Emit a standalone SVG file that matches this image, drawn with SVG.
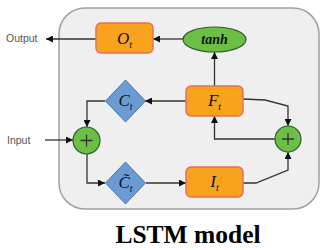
<svg xmlns="http://www.w3.org/2000/svg" width="329" height="250" viewBox="0 0 329 250">
<defs>
<marker id="ah" viewBox="0 0 10 10" refX="10" refY="5" markerWidth="7" markerHeight="7" markerUnits="userSpaceOnUse" orient="auto">
<path d="M0,0 L10,5 L0,10 z" fill="#111"/>
</marker>
<style>
.panel{fill:#EFEFEF;stroke:#A0A0A0;stroke-width:1.5}
.box{fill:#F9A31C;stroke:#E4705C;stroke-width:1.5}
.dia{fill:#6A9BD2;stroke:#4B79AB;stroke-width:1}
.grn{fill:#6CBE45;stroke:#2C5E28;stroke-width:1.2}
.ln{fill:none;stroke:#333;stroke-width:1.3;marker-end:url(#ah)}
.ln2{fill:none;stroke:#333;stroke-width:1.3}
.math{font-family:"Liberation Serif",serif;font-style:italic;fill:#111;text-anchor:middle}
.lbl{font-family:"Liberation Sans",Arial,sans-serif;font-size:10.5px;fill:#555}
.title{font-family:"Liberation Serif","Times New Roman",serif;font-weight:bold;font-size:25.5px;fill:#000;text-anchor:middle}
</style>
</defs>
<rect class="panel" x="59" y="8" width="260" height="201" rx="26" ry="26"/>
<g id="connectors">
<path class="ln" d="M96,39 L46,39"/>
<path class="ln" d="M183,39 L153,39"/>
<path class="ln" d="M214.5,86 L214.5,52"/>
<path class="ln" d="M243,99 L265,100 L288,106 L288,126"/>
<path class="ln" d="M275,139 L214.5,139 L214.5,116"/>
<path class="ln" d="M243,183 L256,183 L288,170 L288,152"/>
<path class="ln" d="M186,101 L145,101"/>
<path class="ln" d="M105,101 L87,101 L87,127"/>
<path class="ln" d="M45,140 L73,140"/>
<path class="ln" d="M87,154 L87,183 L105,183"/>
<path class="ln" d="M146,183 L186,183"/>
</g>
<g id="output"><text class="lbl" x="6" y="42">Output</text></g>
<g id="input"><text class="lbl" x="7" y="144">Input</text></g>
<g id="Ot">
<rect class="box" x="96" y="23" width="57" height="30" rx="5"/>
<text class="math" x="124.5" y="44" font-size="17">O<tspan font-size="10" dy="4">t</tspan></text>
</g>
<g id="tanh">
<ellipse class="grn" cx="214.5" cy="39.5" rx="31.5" ry="12.5"/>
<text class="math" x="214.5" y="44" font-size="14" font-weight="bold">tanh</text>
</g>
<g id="Ft">
<rect class="box" x="186" y="86" width="57" height="30" rx="5"/>
<text class="math" x="214.5" y="106" font-size="17">F<tspan font-size="10" dy="4">t</tspan></text>
</g>
<g id="It">
<rect class="box" x="186" y="167" width="57" height="30" rx="5"/>
<text class="math" x="214.5" y="187" font-size="17">I<tspan font-size="10" dy="4">t</tspan></text>
</g>
<g id="Ct">
<polygon class="dia" points="125.5,80 145.5,101 125.5,122 105.5,101"/>
<text class="math" x="125.5" y="106" font-size="17">C<tspan font-size="10" dy="4">t</tspan></text>
</g>
<g id="Ctilde">
<polygon class="dia" points="125.5,162 145.5,183 125.5,204 105.5,183"/>
<text class="math" x="125.5" y="188" font-size="17">C&#x303;<tspan font-size="10" dy="4">t</tspan></text>
</g>
<g id="plus1">
<circle class="grn" cx="86.5" cy="140.5" r="13.5"/>
<path class="ln2" d="M80.5,140.5 H92.5 M86.5,134.5 V146.5" stroke="#111" stroke-width="1.6"/>
</g>
<g id="plus2">
<circle class="grn" cx="288" cy="139" r="13"/>
<path class="ln2" d="M282,139 H294 M288,133 V145" stroke="#111" stroke-width="1.6"/>
</g>
<g id="title"><text class="title" x="188" y="243">LSTM model</text></g>
</svg>
